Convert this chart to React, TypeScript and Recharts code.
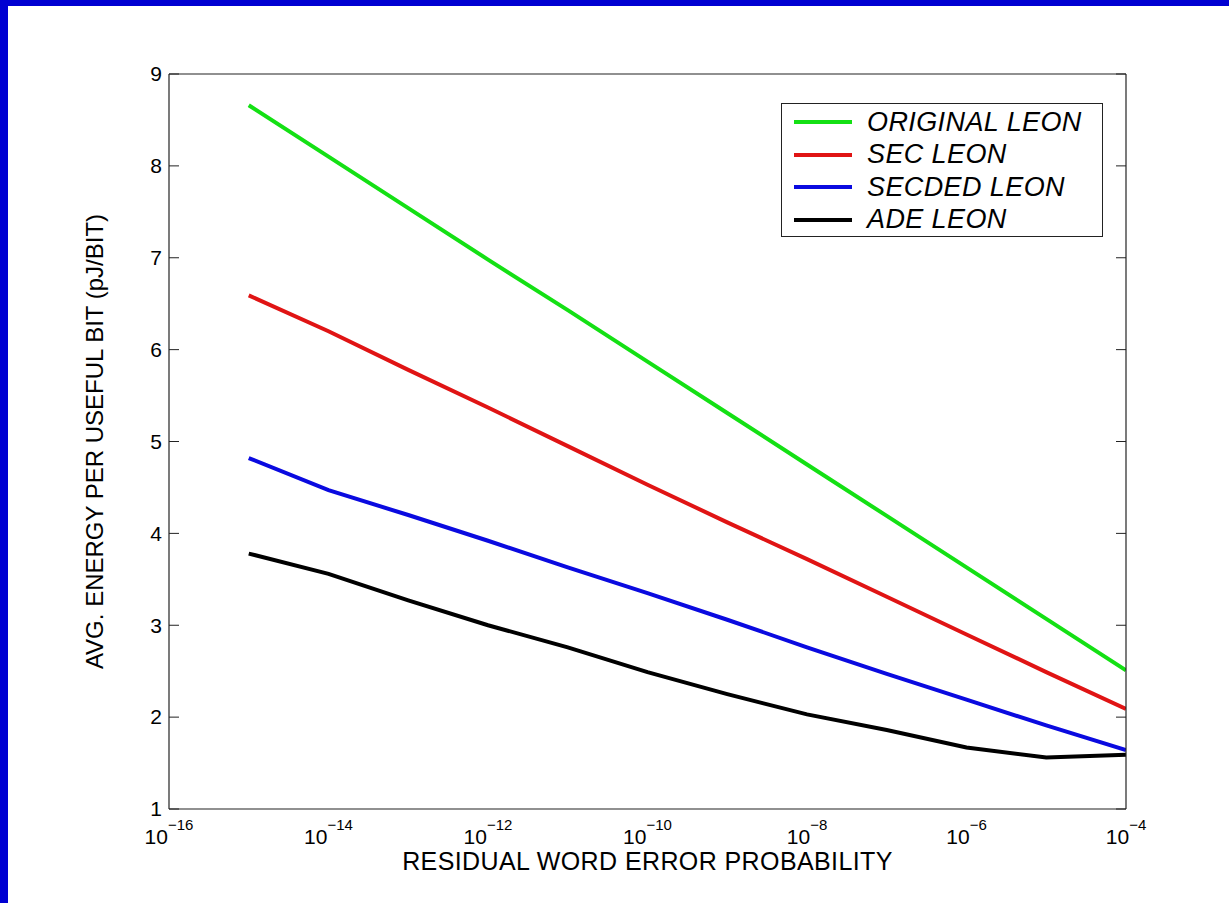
import { LineChart, Line, XAxis, YAxis, Legend } from 'recharts';

// decades along the x axis (10^e)
const exponents = [-15, -14, -13, -12, -11, -10, -9, -8, -7, -6, -5, -4];
const originalLeon = [8.66, 8.1, 7.54, 6.98, 6.43, 5.87, 5.31, 4.75, 4.19, 3.63, 3.07, 2.51];
const secLeon = [6.59, 6.2, 5.78, 5.37, 4.95, 4.53, 4.12, 3.72, 3.31, 2.9, 2.49, 2.09];
const secdedLeon = [4.82, 4.47, 4.2, 3.92, 3.63, 3.35, 3.06, 2.76, 2.47, 2.19, 1.91, 1.64];
const adeLeon = [3.78, 3.56, 3.27, 3.0, 2.76, 2.49, 2.25, 2.03, 1.86, 1.67, 1.56, 1.59];

const xTickExponents = [-16, -14, -12, -10, -8, -6, -4];
const yTicks = [1, 2, 3, 4, 5, 6, 7, 8, 9];
const seriesNames = ['ORIGINAL LEON', 'SEC LEON', 'SECDED LEON', 'ADE LEON'];

const pow10 = (e: number) => Number(`1e${e}`);

const data = exponents.map((e, i) => ({
  p: pow10(e),
  original: originalLeon[i],
  sec: secLeon[i],
  secded: secdedLeon[i],
  ade: adeLeon[i],
}));

const xTicks = xTickExponents.map(pow10);
const xDomain = [pow10(-16), pow10(-4)];
const FONT = '"Liberation Sans", Arial, Helvetica, sans-serif';
const AXIS = '#222';

const XTick = ({ x, y, payload }: any) => {
  const exp = Math.round(Math.log10(payload.value));
  return (
    <text x={x} y={y + 35} textAnchor="middle" fontSize={21} fill="#000" fontFamily={FONT}>
      <tspan>10</tspan>
      <tspan dy={-14} fontSize={15}>{'\u2212' + Math.abs(exp)}</tspan>
    </text>
  );
};

const YTick = ({ x, y, payload }: any) => (
  <text x={x - 7} y={y} dy="0.35em" textAnchor="end" fontSize={21} fill="#000" fontFamily={FONT}>
    {payload.value}
  </text>
);

// inner tick marks only, no label
const NoLabel = () => null;

const LegendBox = ({ payload }: any) => {
  const items = [...(payload || [])].sort(
    (a, b) => seriesNames.indexOf(a.value) - seriesNames.indexOf(b.value)
  );
  return (
    <div
      style={{
        boxSizing: 'border-box',
        width: 322,
        height: 134,
        border: '1px solid #222',
        background: '#fff',
        padding: '2px 0',
      }}
    >
      {items.map((entry: any) => (
        <div key={entry.value} style={{ display: 'flex', alignItems: 'center', height: 32.5 }}>
          <span
            style={{
              display: 'inline-block',
              width: 58,
              height: 4,
              background: entry.color,
              marginLeft: 12,
              marginRight: 15,
            }}
          />
          <span
            style={{
              fontStyle: 'italic',
              fontSize: 27,
              letterSpacing: 0.4,
              fontFamily: FONT,
              color: '#000',
              lineHeight: 1,
            }}
          >
            {entry.value}
          </span>
        </div>
      ))}
    </div>
  );
};

const App = () => {
  return (
    <div style={{ position: 'absolute', left: 0, top: 0, width: 1229, height: 903, background: '#0000d2', overflow: 'hidden' }}>
      <div style={{ position: 'absolute', left: 8, top: 6, right: 0, bottom: 0, background: '#fff' }} />
      <div style={{ position: 'absolute', left: 0, top: 0 }}>
        <LineChart
          width={1229}
          height={903}
          data={data}
          margin={{ top: 74, right: 103, bottom: 24, left: 69 }}
          style={{ fontFamily: FONT }}
        >
          <XAxis
            xAxisId="x"
            dataKey="p"
            type="number"
            scale="log"
            domain={xDomain}
            ticks={xTicks}
            interval={0}
            allowDataOverflow
            height={70}
            tickSize={0}
            tickMargin={0}
            tickLine={false}
            axisLine={{ stroke: AXIS, strokeWidth: 1.2 }}
            tick={<XTick />}
            label={({ viewBox }: any) => (
              <text
                x={viewBox.x + viewBox.width / 2}
                y={viewBox.y + 61}
                textAnchor="middle"
                fontSize={25}
                letterSpacing={0.4}
                fill="#000"
                fontFamily={FONT}
              >
                RESIDUAL WORD ERROR PROBABILITY
              </text>
            )}
          />
          <XAxis
            xAxisId="xin"
            orientation="bottom"
            mirror
            type="number"
            scale="log"
            domain={xDomain}
            ticks={xTicks}
            interval={0}
            allowDataOverflow
            tickSize={10}
            tick={<NoLabel />}
            axisLine={false}
            tickLine={{ stroke: AXIS }}
          />
          <XAxis
            xAxisId="top"
            orientation="top"
            mirror
            type="number"
            scale="log"
            domain={xDomain}
            ticks={xTicks}
            interval={0}
            allowDataOverflow
            tickSize={10}
            tick={<NoLabel />}
            axisLine={{ stroke: AXIS, strokeWidth: 1.2 }}
            tickLine={{ stroke: AXIS }}
          />
          <YAxis
            yAxisId="y"
            type="number"
            domain={[1, 9]}
            ticks={yTicks}
            interval={0}
            allowDataOverflow
            width={100}
            tickSize={0}
            tickMargin={0}
            tickLine={false}
            axisLine={{ stroke: AXIS, strokeWidth: 1.2 }}
            tick={<YTick />}
            label={({ viewBox }: any) => {
              const cx = viewBox.x + 26;
              const cy = viewBox.y + viewBox.height / 2;
              return (
                <text
                  x={cx}
                  y={cy}
                  dy="0.35em"
                  transform={`rotate(-90 ${cx} ${cy})`}
                  textAnchor="middle"
                  fontSize={24}
                  fill="#000"
                  fontFamily={FONT}
                >
                  AVG. ENERGY PER USEFUL BIT (pJ/BIT)
                </text>
              );
            }}
          />
          <YAxis
            yAxisId="yin"
            mirror
            type="number"
            domain={[1, 9]}
            ticks={yTicks}
            interval={0}
            allowDataOverflow
            tickSize={10}
            tick={<NoLabel />}
            axisLine={false}
            tickLine={{ stroke: AXIS }}
          />
          <YAxis
            yAxisId="right"
            orientation="right"
            mirror
            type="number"
            domain={[1, 9]}
            ticks={yTicks}
            interval={0}
            allowDataOverflow
            tickSize={10}
            tick={<NoLabel />}
            axisLine={{ stroke: AXIS, strokeWidth: 1.2 }}
            tickLine={{ stroke: AXIS }}
          />
          <Legend
            layout="vertical"
            align="center"
            verticalAlign="middle"
            width={322}
            content={<LegendBox />}
            wrapperStyle={{ left: 781, top: 103, width: 322 }}
          />
          <Line xAxisId="x" yAxisId="y" type="linear" dataKey="original" name="ORIGINAL LEON" stroke="#14e014" strokeWidth={4} dot={false} isAnimationActive={false} />
          <Line xAxisId="x" yAxisId="y" type="linear" dataKey="sec" name="SEC LEON" stroke="#e01414" strokeWidth={4} dot={false} isAnimationActive={false} />
          <Line xAxisId="x" yAxisId="y" type="linear" dataKey="secded" name="SECDED LEON" stroke="#0a0ae0" strokeWidth={4} dot={false} isAnimationActive={false} />
          <Line xAxisId="x" yAxisId="y" type="linear" dataKey="ade" name="ADE LEON" stroke="#000" strokeWidth={4} dot={false} isAnimationActive={false} />
        </LineChart>
      </div>
    </div>
  );
};

export default App;
